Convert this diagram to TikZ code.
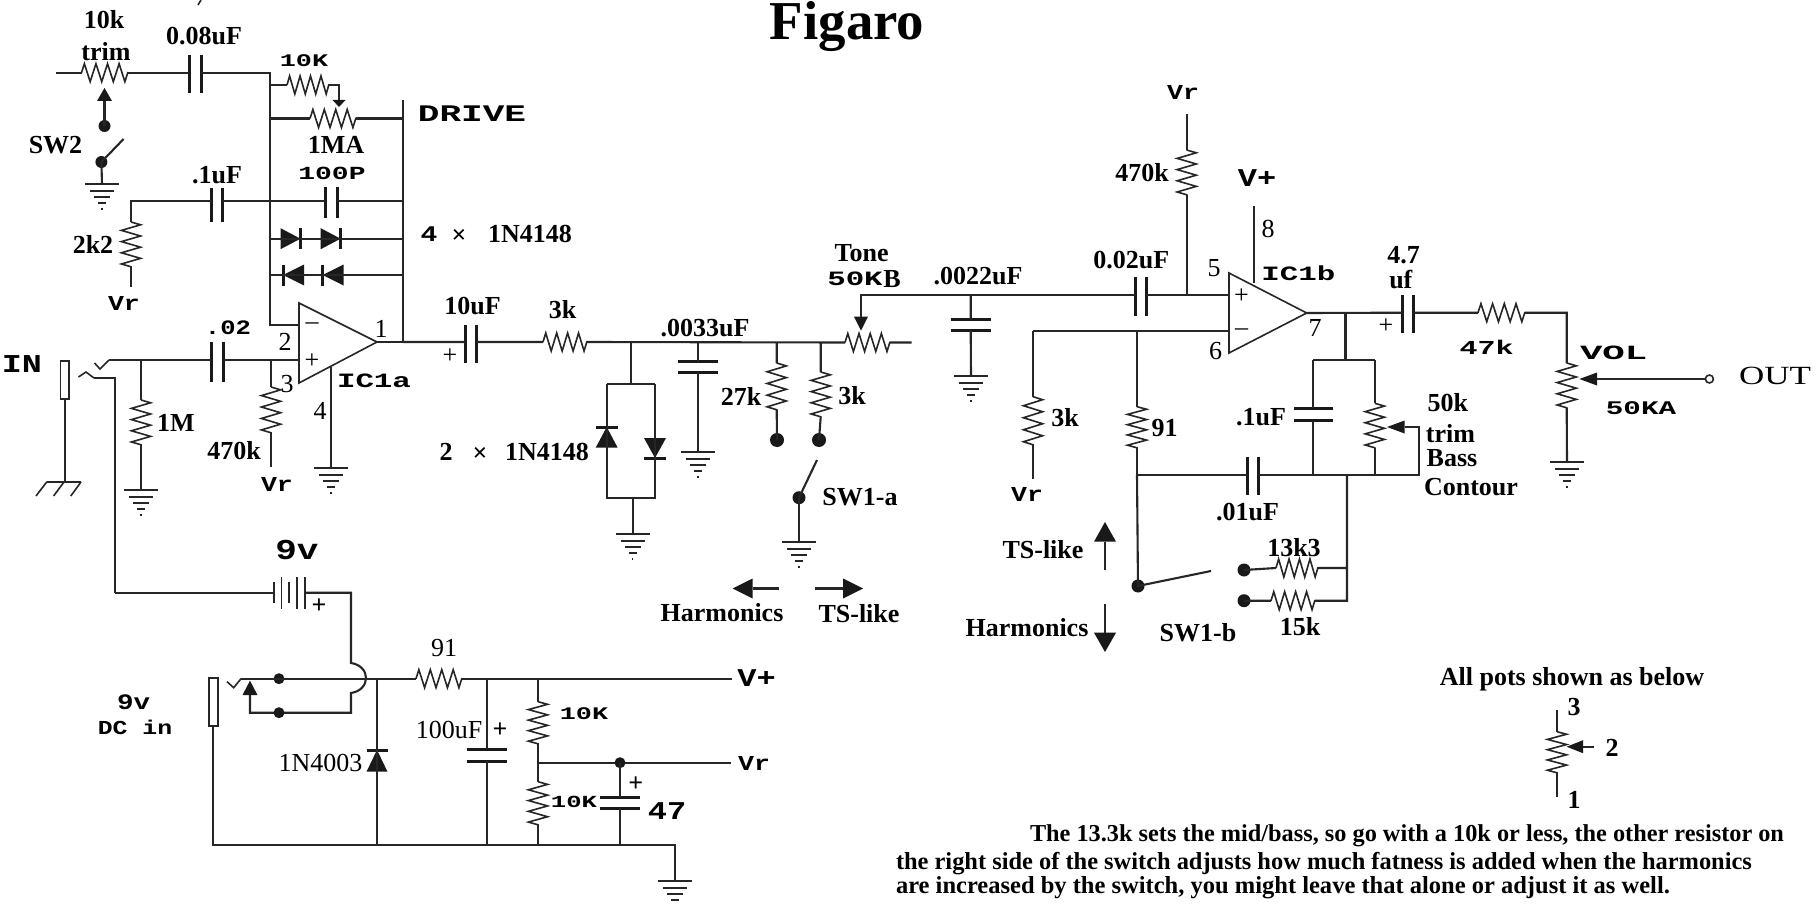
\documentclass[tikz,border=0pt]{standalone}
\usepackage{fontspec}
\usepackage{graphicx}
\setmainfont{Liberation Serif}
\newfontfamily\mf{Liberation Mono}
\usetikzlibrary{decorations.pathmorphing}
\tikzset{
  wire/.style={draw=black!85,line width=1.05pt},
  thinw/.style={draw=black!85,line width=0.8pt},
  plate/.style={draw=black!90,line width=1.5pt},
  tx/.style={inner sep=0pt,outer sep=0pt,yshift=-0.5pt,font=\bfseries\fontsize{13}{15}\selectfont},
  blob/.style={fill=black!90,draw=none},
}
\newcounter{lbl}
\newcommand\Lab[3]{\stepcounter{lbl}\node[tx] (L\arabic{lbl}) at (#1,#2) {#3};}
\newcommand\Rg[1]{{\mdseries #1}}
\newcommand\wf[3][.66]{\scalebox{1}[#1]{\fontsize{#2}{#2}\selectfont\mf\bfseries #3}}
% resistors: name, start, end, other coordinate
\newcommand\ResH[4]{\coordinate (#1-a) at (#2,#4);\coordinate (#1-b) at (#3,#4);
  \draw[thinw,decorate,decoration={zigzag,amplitude=4.5pt,segment length={(#3-#2)*0.5pt/4.02}}] (#1-a)--(#1-b);}
\newcommand\ResV[4]{\coordinate (#1-a) at (#2,#3);\coordinate (#1-b) at (#2,#4);
  \draw[thinw,decorate,decoration={zigzag,amplitude=4.8pt,segment length={(#4-#3)*0.5pt/4.02}}] (#1-a)--(#1-b);}
% capacitors in horizontal wire: name,x1,x2,y,ytop,ybot
\newcommand\CapH[6]{\coordinate (#1-a) at (#2,#4);\coordinate (#1-b) at (#3,#4);
  \draw[plate] (#2,#5)--(#2,#6) (#3,#5)--(#3,#6);}
% capacitors in vertical wire: name,x,y1,y2,halfwidth
\newcommand\CapV[5]{\coordinate (#1-a) at (#2,#3);\coordinate (#1-b) at (#2,#4);
  \draw[plate] ({#2-#5},#3)--({#2+#5},#3) ({#2-#5},#4)--({#2+#5},#4);}
% ground: name,x,y
\newcommand\Gnd[3]{\coordinate (#1) at (#2,#3);
  \draw[wire] ({#2-17},#3)--({#2+17},#3) ({#2-12},{#3+7})--({#2+12},{#3+7}) ({#2-8},{#3+13})--({#2+8},{#3+13}) ({#2-4},{#3+19})--({#2+4},{#3+19}) ({#2-.7},{#3+25})--({#2+.7},{#3+25});}
\newcommand\Dotn[4]{\coordinate (#1) at (#2,#3);\fill[blob] (#2,#3) circle ({#4*0.5pt});}
% diodes: name, xbase, xbar, y, halfheight
\newcommand\DioH[5]{\coordinate (#1-a) at (#2,#4);\coordinate (#1-b) at (#3,#4);
  \fill[blob] (#2,{#4-#5})--(#2,{#4+#5})--(#3,#4)--cycle;\draw[plate] (#3,{#4-#5})--(#3,{#4+#5});}
\newcommand\DioV[5]{\coordinate (#1-a) at (#2,#3);\coordinate (#1-b) at (#2,#4);
  \fill[blob] ({#2-#5},#3)--({#2+#5},#3)--(#2,#4)--cycle;\draw[plate] ({#2-#5},#4)--({#2+#5},#4);}
% arrowheads: name, tip, base, other, half
\newcommand\ArrH[5]{\coordinate (#1-t) at (#2,#4);\coordinate (#1-s) at (#3,#4);\fill[blob] (#2,#4)--(#3,{#4-#5})--(#3,{#4+#5})--cycle;}
\newcommand\ArrV[5]{\coordinate (#1-t) at (#2,#3);\coordinate (#1-s) at (#2,#4);\fill[blob] (#2,#3)--({#2-#5},#4)--({#2+#5},#4)--cycle;}
\begin{document}
\begin{tikzpicture}[x=0.5pt,y=-0.5pt]
\fill[white] (0,0) rectangle (1817,904);
\useasboundingbox (0,0) rectangle (1817,904);

%% ---- first stage feedback
\coordinate (inL) at (56,72.7);
\ResH{trim}{81.5}{128}{72.7}
\CapH{c008}{189.4}{201}{72.7}{55}{93}
\coordinate (busA) at (270,72.7);
\coordinate (busD) at (270,85);
\coordinate (busE) at (270,118.5);
\coordinate (busF) at (270,201);
\coordinate (busG) at (270,238.7);
\coordinate (busH) at (270,275);
\coordinate (minA) at (299,325);
\coordinate (busB) at (270,325);
\coordinate (outTop) at (402.6,100);
\coordinate (outE) at (402.6,118.5);
\coordinate (outF) at (402.6,201);
\coordinate (outG) at (402.6,238.7);
\coordinate (outH) at (402.6,275);
\coordinate (outB) at (402.6,342);
\draw[wire] (inL)--(trim-a) (trim-b)--(c008-a) (c008-b)--(busA)--(busB)--(minA);
\draw[wire] (outTop)--(outB);
\ResH{r10k}{287}{329}{85}
\coordinate (r10kc) at (339,85);
\ArrV{drvarr}{339}{107}{100}{6.5}
\draw[wire] (busD)--(r10k-a) (r10k-b)--(r10kc)--(drvarr-s);
\ResH{drive}{310}{356}{118.5}
\draw[wire] (busE)--(drive-a) (drive-b)--(outE);
%% trim wiper and SW2
\ArrV{trarr}{104.5}{88}{101}{7.5}
\Dotn{sw2a}{104.5}{126}{6}
\draw[wire] (trarr-s)--(sw2a);
\Dotn{sw2b}{101.4}{162}{6}
\coordinate (sw2c) at (123.6,139);
\draw[wire] (sw2b)--(sw2c);
\Gnd{g1}{102}{184}
\draw[wire] (sw2b)--(g1);
%% .1uF, 100P
\coordinate (a2k) at (131,201);
\CapH{c01}{211.6}{222.7}{201}{188}{221.7}
\CapH{c100}{325}{337}{201}{187}{218}
\ResV{r2k2}{131}{222}{267}
\coordinate (r2k2e) at (131,287);
\draw[wire] (r2k2e)--(r2k2-b) (r2k2-a)--(a2k)--(c01-a) (c01-b)--(busF)--(c100-a) (c100-b)--(outF);
%% diodes
\DioH{d1}{280.5}{300.5}{238.7}{10.5}
\DioH{d2}{320.7}{340.6}{238.7}{10.5}
\DioH{d3}{304}{283}{275}{10.5}
\DioH{d4}{343.7}{322.6}{275}{10.5}
\draw[wire] (busG)--(outG) (busH)--(outH);
%% opamp a
\coordinate (oa1) at (299,303);\coordinate (oa2) at (299,383);\coordinate (oa3) at (377,342);
\draw[thinw] (oa1)--(oa2)--(oa3)--cycle;
\coordinate (plusA) at (299,360);
\coordinate (n4) at (331,367);
\Gnd{g2}{331}{468}
\draw[wire] (n4)--(g2);
\draw[wire] (oa3)--(outB);
%% input
\draw[thinw] (60.5,361) rectangle (69,399);
\coordinate (sleeve) at (65,399);
\coordinate (gh) at (65,482);
\draw[wire] (sleeve)--(gh);
\draw[thinw] (46.7,482)--(81,482) (46.7,482)--(36,496) (64,482)--(53.6,496) (81,482)--(70.8,496);
\coordinate (tipA) at (109,360);
\draw[thinw] (94.5,363)--(100,369)--(tipA);
\CapH{c02}{211}{223}{360}{342}{382}
\coordinate (j1M) at (141,360);
\coordinate (j470) at (271,360);
\draw[wire] (tipA)--(c02-a) (c02-b)--(plusA);
\ResV{r1m}{141}{400}{445}
\Gnd{g3}{141}{490}
\draw[wire] (j1M)--(r1m-a) (r1m-b)--(g3);
\ResV{r470}{271}{387}{433}
\coordinate (r470e) at (271,467);
\draw[wire] (j470)--(r470-a) (r470-b)--(r470e);
\coordinate (shA) at (94,378);\coordinate (shB) at (115,378);\coordinate (shC) at (115,592.7);
\draw[thinw] (78.5,377)--(86,372)--(shA);
\draw[wire] (shA)--(shB)--(shC);
%% output of a to tone
\CapH{c10}{465}{476.5}{342}{325}{363}
\ResH{r3k}{543}{587}{342}
\ResH{tone}{845}{890}{342.5}
\coordinate (toneE) at (911.7,342.5);
\draw[wire] (outB)--(c10-a) (c10-b)--(r3k-a) (r3k-b)--(tone-a) (tone-b)--(toneE);
%% diode pair
\coordinate (dj) at (630.7,342.5);\coordinate (dt) at (630.7,384);
\coordinate (dtl) at (606.7,384);\coordinate (dtr) at (655,384);
\coordinate (dbl) at (606.7,498);\coordinate (dbr) at (655,498);
\coordinate (db) at (632.7,498);
\DioV{d5}{606.7}{447.7}{427}{11}
\DioV{d6}{655}{438}{458}{11}
\draw[wire] (dj)--(dt) (dtl)--(dtr) (dtl)--(dbl)--(dbr)--(dtr);
\Gnd{g4}{632.7}{534}
\draw[wire] (db)--(g4);
%% .0033
\coordinate (j33) at (698,342.5);
\CapV{c33}{698}{361.7}{372}{20}
\Gnd{g5}{698}{452}
\draw[wire] (j33)--(c33-a) (c33-b)--(g5);
%% 27k, 3k and SW1-a
\coordinate (j27) at (776.7,342.5);
\ResV{r27}{776.7}{363}{410}
\Dotn{d27}{777}{440}{7}
\draw[wire] (j27)--(r27-a) (r27-b)--(d27);
\coordinate (j3k) at (820.7,342.5);
\ResV{r3b}{820.7}{372}{417}
\Dotn{d3k}{819}{440}{7}
\draw[wire] (j3k)--(r3b-a) (r3b-b)--(d3k);
\Dotn{swa}{799}{497.7}{6.5}
\coordinate (swaE) at (817,460);
\draw[wire] (swa)--(swaE);
\Gnd{g6}{799}{542}
\draw[wire] (swa)--(g6);
%% tone wiper and 0.0022
\ArrV{tarr}{861}{330.7}{316.7}{7}
\coordinate (tc) at (861,295);
\CapH{c002}{1135}{1146}{295}{277}{316}
\draw[wire] (tarr-s)--(tc)--(c002-a);
\coordinate (j22) at (970.7,295);
\CapV{c22}{970.7}{319.3}{330}{20}
\Gnd{g7}{971}{376}
\draw[wire] (j22)--(c22-a) (c22-b)--(g7);
%% opamp b
\coordinate (ob1) at (1229,273);\coordinate (ob2) at (1229,353);\coordinate (ob3) at (1306.7,313);
\draw[thinw] (ob1)--(ob2)--(ob3)--cycle;
\coordinate (plusB) at (1229,295);\coordinate (minB) at (1229,331);
\draw[wire] (c002-b)--(plusB);
\coordinate (vrT) at (1186.7,114);\coordinate (j470b) at (1186.7,295);
\ResV{r470b}{1186.7}{150}{195}
\draw[wire] (vrT)--(r470b-a) (r470b-b)--(j470b);
\coordinate (p8a) at (1254,206);\coordinate (p8b) at (1254,283);
\draw[thinw] (p8a)--(p8b);
%% neg line
\coordinate (negL) at (1033,331);
\coordinate (j91) at (1137,331);
\draw[wire] (negL)--(minB);
\ResV{r3c}{1033}{396.7}{445}
\coordinate (r3cE) at (1033,479);
\draw[wire] (negL)--(r3c-a) (r3c-b)--(r3cE);
\ResV{r91}{1137}{406.7}{448}
\coordinate (j475) at (1137,475);
\draw[wire] (j91)--(r91-a) (r91-b)--(j475);
%% out b
\CapH{c47}{1402.4}{1413.5}{312.7}{295}{333}
\ResH{r47}{1478}{1525}{312.7}
\coordinate (volT) at (1566.7,312.7);
\ResV{vol}{1566.7}{363}{408}
\Gnd{g8}{1567}{461.7}
\draw[wire] (ob3)--(c47-a) (c47-b)--(r47-a) (r47-b)--(volT)--(vol-a) (vol-b)--(g8);
\ArrH{volarr}{1579.4}{1597}{379}{6.5}
\coordinate (outEnd) at (1705,379);
\draw[wire] (volarr-s)--(outEnd);
\draw[thinw,fill=white] (1709.4,379) circle (2pt);
%% feedback b
\coordinate (fbj) at (1345.5,312.7);\coordinate (fbt) at (1345.5,360);
\coordinate (fbl) at (1313.4,360);\coordinate (fbr) at (1374.8,360);
\draw[wire] (fbj)--(fbt) (fbl)--(fbr);
\CapV{c1b}{1313.4}{408.3}{420.7}{19.4}
\coordinate (fblb) at (1313.4,475);
\draw[wire] (fbl)--(c1b-a) (c1b-b)--(fblb);
\ResV{bass}{1374.8}{403.3}{448}
\coordinate (fbrb) at (1374.8,475);
\draw[wire] (fbr)--(bass-a) (bass-b)--(fbrb);
\ArrH{basarr}{1387}{1404.6}{427}{6.5}
\coordinate (bc) at (1419,427);\coordinate (bd) at (1419,475);
\CapH{c01b}{1247}{1258.6}{475}{456.7}{495}
\draw[wire] (basarr-s)--(bc)--(bd)--(c01b-b) (c01b-a)--(j475);
%% SW1-b
\Dotn{swb}{1138}{586}{6.5}
\coordinate (swbE) at (1211,571);
\draw[wire] (j475)--(swb)--(swbE);
\coordinate (rj1) at (1347,475);\coordinate (rj2) at (1347,568);\coordinate (rj3) at (1347,600.7);
\ResH{r13}{1276}{1318}{568}
\ResH{r15}{1271}{1315}{600.7}
\Dotn{d13}{1244}{570}{6.5}
\Dotn{d15}{1244}{600.7}{6.5}
\draw[wire] (rj1)--(rj3)--(r15-b) (rj2)--(r13-b) (r13-a)--(d13) (r15-a)--(d15);
%% direction arrows
\ArrH{ah1}{732.6}{752.6}{588.5}{10}
\coordinate (ah1e) at (779,588.5);
\draw[wire] (ah1-s)--(ah1e);
\ArrH{ah2}{863}{843}{588.5}{10}
\coordinate (ah2e) at (815,588.5);
\draw[wire] (ah2-s)--(ah2e);
\ArrV{av1}{1105}{522}{541.7}{11}
\coordinate (av1e) at (1105,570);
\draw[wire] (av1-s)--(av1e);
\ArrV{av2}{1105}{652}{632.7}{11}
\coordinate (av2e) at (1105,604);
\draw[wire] (av2-s)--(av2e);
%% pots legend
\ResV{lg}{1557}{731.7}{773}
\coordinate (lgT) at (1557,710);\coordinate (lgB1) at (1557,777);\coordinate (lgB2) at (1557,797);
\draw[thinw] (lgT)--(lg-a) (lgB1)--(lgB2) (lg-b)--(lgB1);
\ArrH{lgar}{1566.7}{1583}{746.7}{6.5}
\coordinate (lgE) at (1594,746.7);
\draw[wire] (lgar-s)--(lgE);
%% ---- power section
\coordinate (batL) at (274,592.7);\coordinate (batR) at (305,592.7);
\draw[thinw] (274,582)--(274,603) (281.6,577)--(281.6,609) (289,582)--(289,603) (297,577)--(297,609) (305,577)--(305,609);
\draw[wire] (shC)--(batL);
\coordinate (batC) at (351,592.7);\coordinate (hopA) at (351,663);\coordinate (hopB) at (351,693);\coordinate (retR) at (351,712.7);
\coordinate (retL) at (250,712.7);
\ArrV{dcarr}{250}{680.7}{695}{7.5}
\draw[wire] (batR)--(batC)--(hopA) .. controls (371,666) and (371,690) .. (hopB)--(retR)--(retL)--(dcarr-s);
\Dotn{dcd1}{279}{678.7}{5.5}
\Dotn{dcd2}{279}{712.7}{5.5}
\draw[thinw] (209,678) rectangle (218,725.7);
\coordinate (dcS) at (213,725.7);\coordinate (gndL) at (213,845);\coordinate (gndR) at (675,845);
\Gnd{g9}{675}{880.7}
\draw[wire] (dcS)--(gndL)--(gndR)--(g9);
\coordinate (dcT) at (241,678.7);
\draw[thinw] (227,681.7)--(233.7,687.7)--(dcT);
\ResH{r91b}{416}{462}{678.7}
\coordinate (vpE) at (732,678.7);
\draw[wire] (dcT)--(r91b-a) (r91b-b)--(vpE);
\coordinate (j4003) at (377,678.7);\coordinate (b4003) at (377,845);
\DioV{d7}{377}{771.7}{750}{10.5}
\draw[wire] (j4003)--(b4003);
\coordinate (j100) at (486.7,678.7);\coordinate (b100) at (486.7,845);
\CapV{c100u}{486.7}{749}{761}{20}
\draw[wire] (j100)--(c100u-a) (c100u-b)--(b100);
\coordinate (jdv) at (538,678.7);\coordinate (bdv) at (538,845);\coordinate (mdv) at (538,762.7);
\ResV{rdv1}{538}{701.7}{744}
\ResV{rdv2}{538}{781.7}{825}
\draw[wire] (jdv)--(rdv1-a) (rdv1-b)--(mdv)--(rdv2-a) (rdv2-b)--(bdv);
\coordinate (vrE) at (730.6,762.7);
\draw[wire] (mdv)--(vrE);
\Dotn{dvr}{620}{762.7}{5.5}
\CapV{c47b}{620}{797.3}{808.3}{20}
\coordinate (b47) at (620,845);
\draw[wire] (dvr)--(c47b-a) (c47b-b)--(b47);
\draw[thinw] (201,0)--(198,5);

%% ---- labels
\Lab{847}{26}{\fontsize{27.4}{29}\selectfont Figaro}
\Lab{104}{19}{10k}
\Lab{106}{51}{trim}
\Lab{204}{35}{0.08uF}
\Lab{304}{60}{\wf{13.4}{10K}}
\Lab{472}{113}{\wf{18}{DRIVE}}
\Lab{336}{144}{1MA}
\Lab{55.5}{144}{SW2}
\Lab{217}{174}{.1uF}
\Lab{332}{172}{\wf{14}{100P}}
\Lab{93}{243}{2k2}
\Lab{124}{302}{\wf[.8]{13.3}{Vr}}
\Lab{429}{233}{\wf[.8]{14}{4}}
\Lab{459}{235}{×}
\Lab{530}{233}{1N4148}
\Lab{312}{325}{\Rg{–}}
\Lab{312}{360}{\Rg{+}}
\Lab{285}{341}{\Rg{2}}
\Lab{287}{383}{\Rg{3}}
\Lab{381}{328}{\Rg{1}}
\Lab{320}{410}{\Rg{4}}
\Lab{374}{380}{\wf{15.4}{IC1a}}
\Lab{234}{450}{470k}
\Lab{277}{483}{\wf[.8]{13.3}{Vr}}
\Lab{176}{422}{1M}
\Lab{228}{327}{\wf[.8]{12.8}{.02}}
\Lab{22}{363}{\wf[.77]{16.7}{IN}}
\Lab{450}{355}{\Rg{+}}
\Lab{472.6}{305}{10uF}
\Lab{562.6}{309}{3k}
\Lab{446}{451}{2}
\Lab{480}{453}{×}
\Lab{547}{451}{1N4148}
\Lab{297}{549}{\wf[.8]{18}{9v}}
\Lab{705}{327}{.0033uF}
\Lab{741}{395}{27k}
\Lab{852}{395}{3k}
\Lab{860}{496}{SW1-a}
\Lab{861.7}{251.7}{Tone}
\Lab{855}{278}{\wf{15.4}{50K}}
\Lab{892}{278}{B}
\Lab{978}{275}{.0022uF}
\Lab{1065}{416.7}{3k}
\Lab{1027}{493}{\wf[.8]{13.3}{Vr}}
\Lab{722}{612}{Harmonics}
\Lab{859}{613}{TS-like}
\Lab{1183}{91}{\wf[.8]{13.3}{Vr}}
\Lab{1142}{172}{470k}
\Lab{1257}{177}{\wf[.8]{16}{V+}}
\Lab{1268}{228}{\Rg{8}}
\Lab{1241.5}{295}{\Rg{+}}
\Lab{1241.5}{331}{\Rg{–}}
\Lab{1214}{267}{\Rg{5}}
\Lab{1215.5}{350}{\Rg{6}}
\Lab{1315}{327}{\Rg{7}}
\Lab{1298.4}{272}{\wf{15.4}{IC1b}}
\Lab{1131.4}{259}{0.02uF}
\Lab{1164.6}{427}{91}
\Lab{1386}{325}{\Rg{+}}
\Lab{1403.5}{254}{4.7}
\Lab{1400.8}{279}{uf}
\Lab{1486.5}{346}{\wf{15}{47k}}
\Lab{1613.7}{351.7}{\wf[.54]{18.7}{VOL}}
\Lab{1641}{407}{\wf{14.6}{50KA}}
\Lab{1775}{375}{\scalebox{1}[.75]{\fontsize{17.5}{18}\selectfont\mdseries OUT}}
\Lab{1261}{416}{.1uF}
\Lab{1447.8}{401.7}{50k}
\Lab{1450.5}{432.7}{trim}
\Lab{1452}{456.7}{Bass}
\Lab{1471}{486}{Contour}
\Lab{1294}{547}{13k3}
\Lab{1300}{626}{15k}
\Lab{1198}{632}{SW1-b}
\Lab{1247.6}{511}{.01uF}
\Lab{1043}{549}{TS-like}
\Lab{1027}{627}{Harmonics}
\Lab{1572}{678}{All pots shown as below}
\Lab{1574}{706}{3}
\Lab{1612}{747}{2}
\Lab{1574}{799}{1}
\stepcounter{lbl}\node[tx,anchor=west] (L\arabic{lbl}) at (1030,835) {\resizebox{377pt}{!}{The 13.3k sets the mid/bass, so go with a 10k or less, the other resistor on}};
\stepcounter{lbl}\node[tx,anchor=west] (L\arabic{lbl}) at (896,862.7) {\resizebox{428pt}{!}{the right side of the switch adjusts how much fatness is added when the harmonics}};
\stepcounter{lbl}\node[tx,anchor=west] (L\arabic{lbl}) at (896,887) {\resizebox{387pt}{!}{are increased by the switch, you might leave that alone or adjust it as well.}};
\Lab{444}{647}{\Rg{91}}
\Lab{756.6}{676.7}{\wf[.8]{16}{V+}}
\Lab{754}{762}{\wf[.8]{13.3}{Vr}}
\Lab{320.4}{762}{\Rg{1N4003}}
\Lab{449}{729}{\Rg{100uF}}
\Lab{500}{729}{+}
\Lab{635.7}{782.7}{+}
\Lab{667}{810}{\wf[.8]{16}{47}}
\Lab{584}{713}{\wf{13.4}{10K}}
\Lab{574}{800.7}{\wf{12.8}{10K}}
\Lab{319}{605}{+}
\Lab{133.7}{701.7}{\wf[.8]{13.8}{9v}}
\Lab{135}{726.7}{\wf[.8]{12.4}{DC in}}
\end{tikzpicture}
\end{document}
